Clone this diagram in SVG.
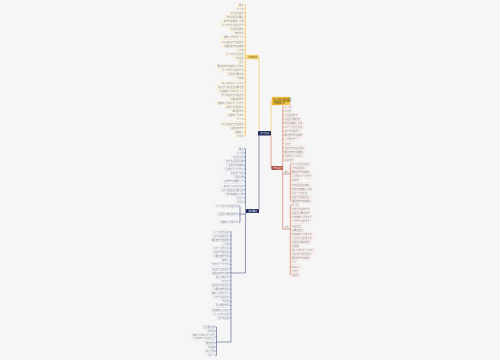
<svg xmlns="http://www.w3.org/2000/svg" width="500" height="360" viewBox="0 0 500 360">
<style>
text{font-family:"Noto Sans CJK SC","Noto Sans",sans-serif;font-size:2.2px;fill:#8c8c8c}
.e{text-anchor:end}
.ly rect{fill:#fffdf6;stroke:#f3dfb4;stroke-width:.3}
.lr rect{fill:#fffaf9;stroke:#f1ccc4;stroke-width:.3}
.ln rect{fill:#fbfcfe;stroke:#d0d5e6;stroke-width:.3}
.cy{fill:none;stroke:#f0b429;stroke-width:.5}
.cr{fill:none;stroke:#c8553d;stroke-width:.5}
.cn{fill:none;stroke:#2c3e70;stroke-width:.5}
.wt{fill:#fff}
</style>
<rect width="500" height="360" fill="#f6f6f6"/>
<g id="connectors">
<path class="cy" d="M259,131V57H258.5M245.5,4.7V135.9M245.5,57H246.5M244,4.7h1.5M244,8.8h1.5M244,12.9h1.5M244,17h1.5M244,21.1h1.5M244,25.2h1.5M244,29.3h1.5M244,33.4h1.5M244,37.5h1.5M244,41.6h1.5M244,45.7h1.5M244,49.8h1.5M244,53.9h1.5M244,58h1.5M244,62.1h1.5M244,66.2h1.5M244,70.3h1.5M244,74.4h1.5M244,78.5h1.5M244,82.6h1.5M244,86.7h1.5M244,90.8h1.5M244,94.9h1.5M244,99h1.5M244,103.1h1.5M244,107.2h1.5M244,111.3h1.5M244,115.4h1.5M244,119.5h1.5M244,123.6h1.5M244,127.7h1.5M244,131.8h1.5M244,135.9h1.5"/>
<path class="cy" d="M270.5,133H271V101H272"/>
<path class="cr" d="M270.5,134H271V168H271.5M282.5,168H282.7M282.7,106.7V229M282.7,106.7H284M282.7,110.8H284M282.7,114.9H284M282.7,119H284M282.7,123.1H284M282.7,127.2H284M282.7,131.3H284M282.7,135.4H284M282.7,139.5H284M282.7,143.6H284M282.7,147.7H284M282.7,151.8H284M282.7,155.9H284M282.7,160H284M282.7,174H290.3M290.3,164.1V201M290.3,164.1h1M290.3,168.2h1M290.3,172.3h1M290.3,176.4h1M290.3,180.5h1M290.3,184.6h1M290.3,188.7h1M290.3,192.8h1M290.3,196.9h1M290.3,201h1M282.7,229H290.3M290.3,205.1V274.8M290.3,205.1h1M290.3,209.2h1M290.3,213.3h1M290.3,217.4h1M290.3,221.5h1M290.3,225.6h1M290.3,229.7h1M290.3,233.8h1M290.3,237.9h1M290.3,242h1M290.3,246.1h1M290.3,250.2h1M290.3,254.3h1M290.3,258.4h1M290.3,262.5h1M290.3,266.6h1M290.3,270.7h1M290.3,274.8h1"/>
<path class="cn" d="M259,135V209M245.5,148.7V273M245.5,211H246M244,148.7h1.5M244,152.8h1.5M244,156.9h1.5M244,161h1.5M244,165.1h1.5M244,169.2h1.5M244,173.3h1.5M244,177.4h1.5M244,181.5h1.5M244,185.6h1.5M244,189.7h1.5M244,193.8h1.5M244,197.9h1.5M244,202h1.5M240,206.1V222.3M238.5,206.1H240M238.5,214.2H245.5M238.5,222.3H240M231,273H245.5M231,231.7V342M229.5,231.7h1.5M229.5,235.8h1.5M229.5,239.9h1.5M229.5,244h1.5M229.5,248.1h1.5M229.5,252.2h1.5M229.5,256.3h1.5M229.5,260.4h1.5M229.5,264.5h1.5M229.5,268.6h1.5M229.5,272.7h1.5M229.5,276.8h1.5M229.5,280.9h1.5M229.5,285h1.5M229.5,289.1h1.5M229.5,293.2h1.5M229.5,297.3h1.5M229.5,301.4h1.5M229.5,305.5h1.5M229.5,309.6h1.5M229.5,313.7h1.5M229.5,317.8h1.5M231,342H216.5M216.5,327V355.3M215,327h1.5M215,331.1h1.5M215,336.8h1.5M215,343h1.5M215,347.1h1.5M215,351.2h1.5M215,355.3h1.5"/>
</g>
<g id="center"><rect x="258" y="131" width="13" height="4.5" rx="0.8" fill="#1f2a5c"/><text class="wt" x="264.5" y="134.1" text-anchor="middle">学习计划</text></g>
<g id="b-yellow"><rect x="246.5" y="55" width="12" height="4" rx="0.6" fill="#f9d776" stroke="#e8b73a" stroke-width=".3"/><text x="252.5" y="57.9" text-anchor="middle" fill="#5a4300" style="fill:#5a4300">工作总结</text></g>
<g id="b-ybox"><rect x="272" y="97" width="18" height="8" rx="0.6" fill="#f7c948" stroke="#e5ad22" stroke-width=".3"/><text x="273" y="99.6" style="fill:#4a3a00;font-size:2px">学习工作计划总结方</text><text x="273" y="102" style="fill:#4a3a00;font-size:2px">法经验目标要点安排</text><text x="273" y="104.3" style="fill:#4a3a00;font-size:2px">内容措施心得</text></g>
<g id="b-red"><rect x="271.5" y="166" width="11" height="4" rx="0.6" fill="#a8412e"/><text class="wt" x="277" y="168.9" text-anchor="middle">方法经验</text></g>
<g id="b-navy"><rect x="246" y="209" width="13" height="4" rx="0.6" fill="#1f2a5c"/><text class="wt" x="252.5" y="211.9" text-anchor="middle">目标要点</text></g>
<g class="ly">
<g id="y0"><rect x="238.2" y="3" width="5.8" height="3.4"/><text class="e" x="243.4" y="5.6">要点</text></g>
<g id="y1"><rect x="235.9" y="7.1" width="8.1" height="3.4"/><text class="e" x="243.4" y="9.7">学习法</text></g>
<g id="y2"><rect x="229" y="11.2" width="15" height="3.4"/><text class="e" x="243.4" y="13.8">工作计划总结</text></g>
<g id="y3"><rect x="224.4" y="15.3" width="19.6" height="3.4"/><text class="e" x="243.4" y="17.9">方法经验目标要点</text></g>
<g id="y4"><rect x="222.1" y="19.4" width="21.9" height="3.4"/><text class="e" x="243.4" y="22">安排内容措施心得体</text></g>
<g id="y5"><rect x="219.8" y="23.5" width="24.2" height="3.4"/><text class="e" x="243.4" y="26.1">学习工作计划总结方法</text></g>
<g id="y6"><rect x="229" y="27.6" width="15" height="3.4"/><text class="e" x="243.4" y="30.2">经验目标要点</text></g>
<g id="y7"><rect x="233.6" y="31.7" width="10.4" height="3.4"/><text class="e" x="243.4" y="34.3">安排内容</text></g>
<g id="y8"><rect x="222.1" y="35.8" width="21.9" height="3.4"/><text class="e" x="243.4" y="38.4">措施心得体会学习工</text></g>
<g id="y9"><rect x="219.8" y="39.9" width="24.2" height="3.4"/><text class="e" x="243.4" y="42.5">作计划总结方法经验目</text></g>
<g id="y10"><rect x="222.1" y="44" width="21.9" height="3.4"/><text class="e" x="243.4" y="46.6">标要点安排内容措施</text></g>
<g id="y11"><rect x="235.9" y="48.1" width="8.1" height="3.4"/><text class="e" x="243.4" y="50.7">心得体</text></g>
<g id="y12"><rect x="224.4" y="52.2" width="19.6" height="3.4"/><text class="e" x="243.4" y="54.8">学习工作计划总结</text></g>
<g id="y13"><rect x="233.6" y="56.3" width="10.4" height="3.4"/><text class="e" x="243.4" y="58.9">方法经验</text></g>
<g id="y14"><rect x="238.2" y="60.4" width="5.8" height="3.4"/><text class="e" x="243.4" y="63">目标</text></g>
<g id="y15"><rect x="215.2" y="64.5" width="28.8" height="3.4"/><text class="e" x="243.4" y="67.1">要点安排内容措施心得体会</text></g>
<g id="y16"><rect x="219.8" y="68.6" width="24.2" height="3.4"/><text class="e" x="243.4" y="71.2">学习工作计划总结方法</text></g>
<g id="y17"><rect x="226.7" y="72.7" width="17.3" height="3.4"/><text class="e" x="243.4" y="75.3">经验目标要点安</text></g>
<g id="y18"><rect x="235.9" y="76.8" width="8.1" height="3.4"/><text class="e" x="243.4" y="79.4">内容措</text></g>
<g id="y19"><rect x="219.8" y="80.9" width="24.2" height="3.4"/><text class="e" x="243.4" y="83.5">施心得体会学习工作计</text></g>
<g id="y20"><rect x="215.2" y="85" width="28.8" height="3.4"/><text class="e" x="243.4" y="87.6">划总结方法经验目标要点安</text></g>
<g id="y21"><rect x="217.5" y="89.1" width="26.5" height="3.4"/><text class="e" x="243.4" y="91.7">内容措施心得体会学习工</text></g>
<g id="y22"><rect x="222.1" y="93.2" width="21.9" height="3.4"/><text class="e" x="243.4" y="95.8">作计划总结方法经验目</text></g>
<g id="y23"><rect x="229" y="97.3" width="15" height="3.4"/><text class="e" x="243.4" y="99.9">标要点安排内</text></g>
<g id="y24"><rect x="215.2" y="101.4" width="28.8" height="3.4"/><text class="e" x="243.4" y="104">容措施心得体会学习工作计</text></g>
<g id="y25"><rect x="224.4" y="105.5" width="19.6" height="3.4"/><text class="e" x="243.4" y="108.1">总结方法经验目标</text></g>
<g id="y26"><rect x="231.3" y="109.6" width="12.7" height="3.4"/><text class="e" x="243.4" y="112.2">要点安排内</text></g>
<g id="y27"><rect x="226.7" y="113.7" width="17.3" height="3.4"/><text class="e" x="243.4" y="116.3">容措施心得体会</text></g>
<g id="y28"><rect x="235.9" y="117.8" width="8.1" height="3.4"/><text class="e" x="243.4" y="120.4">学习工</text></g>
<g id="y29"><rect x="222.1" y="121.9" width="21.9" height="3.4"/><text class="e" x="243.4" y="124.5">作计划总结方法经验目</text></g>
<g id="y30"><rect x="229" y="126" width="15" height="3.4"/><text class="e" x="243.4" y="128.6">标要点安排内</text></g>
<g id="y31"><rect x="233.6" y="130.1" width="10.4" height="3.4"/><text class="e" x="243.4" y="132.7">容措施心</text></g>
<g id="y32"><rect x="235.9" y="134.2" width="8.1" height="3.4"/><text class="e" x="243.4" y="136.8">得体会</text></g>
</g>
<g class="lr">
<g id="r0"><rect x="284" y="105" width="8.1" height="3.4"/><text x="284.6" y="107.6">学习法</text></g>
<g id="r1"><rect x="284" y="109.1" width="8.1" height="3.4"/><text x="284.6" y="111.7">工作中</text></g>
<g id="r2"><rect x="284" y="113.2" width="15" height="3.4"/><text x="284.6" y="115.8">计划总结方法</text></g>
<g id="r3"><rect x="284" y="117.3" width="17.3" height="3.4"/><text x="284.6" y="119.9">经验目标要点安</text></g>
<g id="r4"><rect x="284" y="121.4" width="19.6" height="3.4"/><text x="284.6" y="124">排内容措施心得体</text></g>
<g id="r5"><rect x="284" y="125.5" width="19.6" height="3.4"/><text x="284.6" y="128.1">会学习工作计划总</text></g>
<g id="r6"><rect x="284" y="129.6" width="17.3" height="3.4"/><text x="284.6" y="132.2">结方法经验目标</text></g>
<g id="r7"><rect x="284" y="133.7" width="19.6" height="3.4"/><text x="284.6" y="136.3">要点安排内容措施</text></g>
<g id="r8"><rect x="284" y="137.8" width="15" height="3.4"/><text x="284.6" y="140.4">心得体会学习</text></g>
<g id="r9"><rect x="284" y="141.9" width="8.1" height="3.4"/><text x="284.6" y="144.5">工作计</text></g>
<g id="r10"><rect x="284" y="146" width="21.9" height="3.4"/><text x="284.6" y="148.6">划总结方法经验目标</text></g>
<g id="r11"><rect x="284" y="150.1" width="21.9" height="3.4"/><text x="284.6" y="152.7">要点安排内容措施心</text></g>
<g id="r12"><rect x="284" y="154.2" width="19.6" height="3.4"/><text x="284.6" y="156.8">得体会学习工作计</text></g>
<g id="r13"><rect x="284" y="158.3" width="10.4" height="3.4"/><text x="284.6" y="160.9">划总结方</text></g>
</g>
<g id="rA-label"><text x="284.4" y="173.4" style="font-size:2px">要点</text></g>
<g id="rB-label"><text x="284.4" y="228.4" style="font-size:2px">方法</text></g>
<g class="lr">
<g id="ra0"><rect x="291.3" y="162.4" width="19.6" height="3.4"/><text x="291.9" y="165">学习工作计划总结</text></g>
<g id="ra1"><rect x="291.3" y="166.5" width="15" height="3.4"/><text x="291.9" y="169.1">方法经验目标</text></g>
<g id="ra2"><rect x="291.3" y="170.6" width="19.6" height="3.4"/><text x="291.9" y="173.2">要点安排内容措施</text></g>
<g id="ra3"><rect x="291.3" y="174.7" width="21.9" height="3.4"/><text x="291.9" y="177.3">心得体会学习工作计</text></g>
<g id="ra4"><rect x="291.3" y="178.8" width="8.1" height="3.4"/><text x="291.9" y="181.4">划总结</text></g>
<g id="ra5"><rect x="291.3" y="182.9" width="19.6" height="3.4"/><text x="291.9" y="185.5">方法经验目标要点</text></g>
<g id="ra6"><rect x="291.3" y="187" width="21.9" height="3.4"/><text x="291.9" y="189.6">安排内容措施心得体</text></g>
<g id="ra7"><rect x="291.3" y="191.1" width="17.3" height="3.4"/><text x="291.9" y="193.7">会学习工作计划</text></g>
<g id="ra8"><rect x="291.3" y="195.2" width="19.6" height="3.4"/><text x="291.9" y="197.8">总结方法经验目标</text></g>
<g id="ra9"><rect x="291.3" y="199.3" width="21.9" height="3.4"/><text x="291.9" y="201.9">要点安排内容措施心</text></g>
<g id="rb0"><rect x="291.3" y="203.4" width="8.1" height="3.4"/><text x="291.9" y="206">学习法</text></g>
<g id="rb1"><rect x="291.3" y="207.5" width="19.6" height="3.4"/><text x="291.9" y="210.1">工作计划总结方法</text></g>
<g id="rb2"><rect x="291.3" y="211.6" width="19.6" height="3.4"/><text x="291.9" y="214.2">经验目标要点安排</text></g>
<g id="rb3"><rect x="291.3" y="215.7" width="21.9" height="3.4"/><text x="291.9" y="218.3">内容措施心得体会学</text></g>
<g id="rb4"><rect x="291.3" y="219.8" width="19.6" height="3.4"/><text x="291.9" y="222.4">习工作计划总结方</text></g>
<g id="rb5"><rect x="291.3" y="223.9" width="10.4" height="3.4"/><text x="291.9" y="226.5">法经验目</text></g>
<g id="rb6"><rect x="291.3" y="228" width="12.7" height="3.4"/><text x="291.9" y="230.6">标要点安排</text></g>
<g id="rb7"><rect x="291.3" y="232.1" width="21.9" height="3.4"/><text x="291.9" y="234.7">内容措施心得体会学</text></g>
<g id="rb8"><rect x="291.3" y="236.2" width="21.9" height="3.4"/><text x="291.9" y="238.8">习工作计划总结方法</text></g>
<g id="rb9"><rect x="291.3" y="240.3" width="19.6" height="3.4"/><text x="291.9" y="242.9">经验目标要点安排</text></g>
<g id="rb10"><rect x="291.3" y="244.4" width="8.1" height="3.4"/><text x="291.9" y="247">内容措</text></g>
<g id="rb11"><rect x="291.3" y="248.5" width="24.2" height="3.4"/><text x="291.9" y="251.1">施心得体会学习工作计</text></g>
<g id="rb12"><rect x="291.3" y="252.6" width="21.9" height="3.4"/><text x="291.9" y="255.2">划总结方法经验目标</text></g>
<g id="rb13"><rect x="291.3" y="256.7" width="19.6" height="3.4"/><text x="291.9" y="259.3">要点安排内容措施</text></g>
<g id="rb14"><rect x="291.3" y="260.8" width="5.8" height="3.4"/><text x="291.9" y="263.4">心得</text></g>
<g id="rb15"><rect x="291.3" y="264.9" width="10.4" height="3.4"/><text x="291.9" y="267.5">体会学习</text></g>
<g id="rb16"><rect x="291.3" y="269" width="8.1" height="3.4"/><text x="291.9" y="271.6">工作计</text></g>
<g id="rb17"><rect x="291.3" y="273.1" width="8.1" height="3.4"/><text x="291.9" y="275.7">划总结</text></g>
</g>
<g class="ln">
<g id="n0"><rect x="238.2" y="147" width="5.8" height="3.4"/><text class="e" x="243.4" y="149.6">要点</text></g>
<g id="n1"><rect x="235.9" y="151.1" width="8.1" height="3.4"/><text class="e" x="243.4" y="153.7">学习法</text></g>
<g id="n2"><rect x="231.3" y="155.2" width="12.7" height="3.4"/><text class="e" x="243.4" y="157.8">工作计划总</text></g>
<g id="n3"><rect x="224.4" y="159.3" width="19.6" height="3.4"/><text class="e" x="243.4" y="161.9">结方法经验目标要</text></g>
<g id="n4"><rect x="226.7" y="163.4" width="17.3" height="3.4"/><text class="e" x="243.4" y="166">点安排内容措施</text></g>
<g id="n5"><rect x="222.1" y="167.5" width="21.9" height="3.4"/><text class="e" x="243.4" y="170.1">心得体会学习工作计</text></g>
<g id="n6"><rect x="226.7" y="171.6" width="17.3" height="3.4"/><text class="e" x="243.4" y="174.2">划总结方法经</text></g>
<g id="n7"><rect x="233.6" y="175.7" width="10.4" height="3.4"/><text class="e" x="243.4" y="178.3">验目标要</text></g>
<g id="n8"><rect x="222.1" y="179.8" width="21.9" height="3.4"/><text class="e" x="243.4" y="182.4">点安排内容措施心得</text></g>
<g id="n9"><rect x="222.1" y="183.9" width="21.9" height="3.4"/><text class="e" x="243.4" y="186.5">体会学习工作计划总</text></g>
<g id="n10"><rect x="219.8" y="188" width="24.2" height="3.4"/><text class="e" x="243.4" y="190.6">结方法经验目标要点安</text></g>
<g id="n11"><rect x="224.4" y="192.1" width="19.6" height="3.4"/><text class="e" x="243.4" y="194.7">排内容措施心得体</text></g>
<g id="n12"><rect x="235.9" y="196.2" width="8.1" height="3.4"/><text class="e" x="243.4" y="198.8">会学习</text></g>
<g id="n13"><rect x="235.9" y="200.3" width="8.1" height="3.4"/><text class="e" x="243.4" y="202.9">工作计</text></g>
<g id="s1a"><rect x="214.3" y="204.4" width="24.2" height="3.4"/><text class="e" x="237.9" y="207">学习工作计划总结方法</text></g>
<g id="s1b"><rect x="216.6" y="212.5" width="21.9" height="3.4"/><text class="e" x="237.9" y="215.1">经验目标要点安排内</text></g>
<g id="s1c"><rect x="218.9" y="220.6" width="19.6" height="3.4"/><text class="e" x="237.9" y="223.2">容措施心得体会学</text></g>
<g id="s2-0"><rect x="212.2" y="230" width="17.3" height="3.4"/><text class="e" x="228.9" y="232.6">学习工作计划总</text></g>
<g id="s2-1"><rect x="212.2" y="234.1" width="17.3" height="3.4"/><text class="e" x="228.9" y="236.7">结方法经验目标</text></g>
<g id="s2-2"><rect x="209.9" y="238.2" width="19.6" height="3.4"/><text class="e" x="228.9" y="240.8">要点安排内容措施</text></g>
<g id="s2-3"><rect x="221.4" y="242.3" width="8.1" height="3.4"/><text class="e" x="228.9" y="244.9">心得体</text></g>
<g id="s2-4"><rect x="212.2" y="246.4" width="17.3" height="3.4"/><text class="e" x="228.9" y="249">会学习工作计划</text></g>
<g id="s2-5"><rect x="212.2" y="250.5" width="17.3" height="3.4"/><text class="e" x="228.9" y="253.1">总结方法经验目</text></g>
<g id="s2-6"><rect x="212.2" y="254.6" width="17.3" height="3.4"/><text class="e" x="228.9" y="257.2">标要点安排内容</text></g>
<g id="s2-7"><rect x="221.4" y="258.7" width="8.1" height="3.4"/><text class="e" x="228.9" y="261.3">措施心</text></g>
<g id="s2-8"><rect x="209.9" y="262.8" width="19.6" height="3.4"/><text class="e" x="228.9" y="265.4">得体会学习工作计</text></g>
<g id="s2-9"><rect x="209.9" y="266.9" width="19.6" height="3.4"/><text class="e" x="228.9" y="269.5">划总结方法经验目</text></g>
<g id="s2-10"><rect x="209.9" y="271" width="19.6" height="3.4"/><text class="e" x="228.9" y="273.6">标要点安排内容措</text></g>
<g id="s2-11"><rect x="214.5" y="275.1" width="15" height="3.4"/><text class="e" x="228.9" y="277.7">施心得体会学</text></g>
<g id="s2-12"><rect x="219.1" y="279.2" width="10.4" height="3.4"/><text class="e" x="228.9" y="281.8">习工作计</text></g>
<g id="s2-13"><rect x="209.9" y="283.3" width="19.6" height="3.4"/><text class="e" x="228.9" y="285.9">划总结方法经验目</text></g>
<g id="s2-14"><rect x="212.2" y="287.4" width="17.3" height="3.4"/><text class="e" x="228.9" y="290">标要点安排内容</text></g>
<g id="s2-15"><rect x="209.9" y="291.5" width="19.6" height="3.4"/><text class="e" x="228.9" y="294.1">措施心得体会学习</text></g>
<g id="s2-16"><rect x="212.2" y="295.6" width="17.3" height="3.4"/><text class="e" x="228.9" y="298.2">工作计划总结方</text></g>
<g id="s2-17"><rect x="221.4" y="299.7" width="8.1" height="3.4"/><text class="e" x="228.9" y="302.3">法经验</text></g>
<g id="s2-18"><rect x="214.5" y="303.8" width="15" height="3.4"/><text class="e" x="228.9" y="306.4">目标要点安排</text></g>
<g id="s2-19"><rect x="209.9" y="307.9" width="19.6" height="3.4"/><text class="e" x="228.9" y="310.5">内容措施心得体会</text></g>
<g id="s2-20"><rect x="212.2" y="312" width="17.3" height="3.4"/><text class="e" x="228.9" y="314.6">学习工作计划总</text></g>
<g id="s2-21"><rect x="216.8" y="316.1" width="12.7" height="3.4"/><text class="e" x="228.9" y="318.7">结方法经验</text></g>
<g id="s3-0"><rect x="202.3" y="325.3" width="12.7" height="3.4"/><text class="e" x="214.4" y="327.9">目标要点安</text></g>
<g id="s3-1"><rect x="206.9" y="329.4" width="8.1" height="3.4"/><text class="e" x="214.4" y="332">排内容</text></g>
<g id="s3-2"><rect x="190.8" y="333.5" width="24.2" height="6.6"/><text class="e" x="214.4" y="336.1">措施心得体会学习工作</text><text class="e" x="214.4" y="339.2">计划总结方法经验目标</text></g>
<g id="s3-3"><rect x="204.6" y="341.3" width="10.4" height="3.4"/><text class="e" x="214.4" y="343.9">要点安排</text></g>
<g id="s3-4"><rect x="206.9" y="345.4" width="8.1" height="3.4"/><text class="e" x="214.4" y="348">内容措</text></g>
<g id="s3-5"><rect x="204.6" y="349.5" width="10.4" height="3.4"/><text class="e" x="214.4" y="352.1">施心得体</text></g>
<g id="s3-6"><rect x="206.9" y="353.6" width="8.1" height="3.4"/><text class="e" x="214.4" y="356.2">会学习</text></g>
</g>
</svg>
